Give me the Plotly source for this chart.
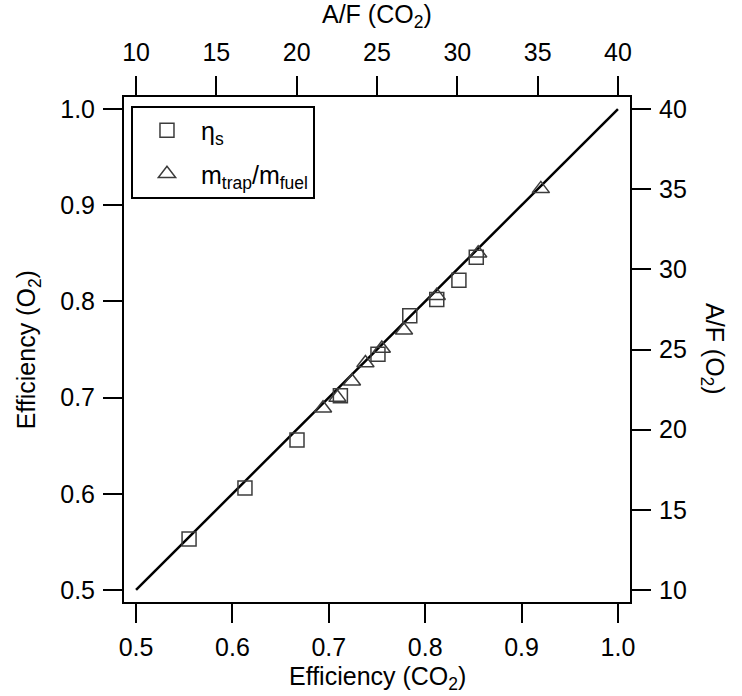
import plotly.graph_objects as go

# Combustion efficiency from CO2 balance (x) vs O2 balance (y)
eta_s_co2 = [0.555, 0.613, 0.667, 0.712, 0.751, 0.784, 0.812, 0.835, 0.853]
eta_s_o2 = [0.553, 0.606, 0.656, 0.702, 0.745, 0.785, 0.802, 0.822, 0.846]
trap_co2 = [0.694, 0.709, 0.724, 0.738, 0.755, 0.778, 0.812, 0.855, 0.920]
trap_o2 = [0.689, 0.700, 0.717, 0.736, 0.751, 0.770, 0.806, 0.850, 0.917]

# 1:1 reference line
unity = [0.5, 1.0]

eff_ticks = [0.5, 0.6, 0.7, 0.8, 0.9, 1.0]
eff_ticktext = ["0.5", "0.6", "0.7", "0.8", "0.9", "1.0"]
af_ticks = [10, 15, 20, 25, 30, 35, 40]

eff_range = [0.4875, 1.0125]
# A/F axes are linear in efficiency: A/F = 60*eff - 20
af_range = [60 * eff_range[0] - 20, 60 * eff_range[1] - 20]

FONT = "Liberation Sans, Arial, sans-serif"
FS = 25
INK = "#000000"
MARK = "#3c3c3c"

fig = go.Figure()

fig.add_trace(go.Scatter(
    x=unity, y=unity, mode="lines",
    line=dict(color=INK, width=2.5),
    showlegend=False, hoverinfo="skip",
))

fig.add_trace(go.Scatter(
    x=eta_s_co2, y=eta_s_o2, mode="markers", name="η<sub>s</sub>",
    legendgroup="a",
    marker=dict(symbol="square-open", size=14, color=MARK, line=dict(width=1.5, color=MARK)),
))

fig.add_trace(go.Scatter(
    x=trap_co2, y=trap_o2, mode="markers", name="m<sub>trap</sub>/m<sub>fuel</sub>",
    legendgroup="b",
    marker=dict(symbol="triangle-up-open", size=15, color=MARK, line=dict(width=1.5, color=MARK)),
))

# Invisible trace that anchors the A/F axes
fig.add_trace(go.Scatter(
    x=[af_ticks[0], af_ticks[-1]], y=[af_ticks[0], af_ticks[-1]],
    xaxis="x2", yaxis="y2", mode="lines",
    line=dict(color="rgba(0,0,0,0)"), showlegend=False, hoverinfo="skip",
))

axis_common = dict(
    showgrid=False, zeroline=False,
    showline=True, linecolor=INK, linewidth=2,
    ticks="outside", ticklen=19, tickwidth=2, tickcolor=INK,
    tickfont=dict(family=FONT, size=FS, color=INK),
)

fig.update_layout(
    width=742, height=696,
    margin=dict(l=124, r=112, t=97, b=94),
    paper_bgcolor="white", plot_bgcolor="white",
    font=dict(family=FONT, size=FS, color=INK),
    xaxis=dict(range=eff_range, tickvals=eff_ticks, ticktext=eff_ticktext,
               ticklabelstandoff=3, **axis_common),
    yaxis=dict(range=eff_range, tickvals=eff_ticks, ticktext=eff_ticktext,
               ticklabelstandoff=3, **axis_common),
    xaxis2=dict(range=af_range, tickvals=af_ticks, overlaying="x", side="top",
                anchor="y", ticklabelstandoff=5, **axis_common),
    yaxis2=dict(range=af_range, tickvals=af_ticks, overlaying="y", side="right",
                anchor="x", ticklabelstandoff=3, **axis_common),
    legend=dict(
        x=0.0138, y=0.983, xanchor="left", yanchor="top",
        bordercolor=INK, borderwidth=2, bgcolor="white",
        font=dict(family=FONT, size=FS, color=INK),
        itemwidth=58, tracegroupgap=8,
    ),
    showlegend=True,
)

titles = [
    dict(text="Efficiency (CO<sub>2</sub>)", x=0.5, y=-0.151, textangle=0),
    dict(text="Efficiency (O<sub>2</sub>)", x=-0.19, y=0.5, textangle=-90),
    dict(text="A/F (CO<sub>2</sub>)", x=0.5, y=1.16, textangle=0),
    dict(text="A/F (O<sub>2</sub>)", x=1.165, y=0.5, textangle=90),
]
for t in titles:
    fig.add_annotation(
        text=t["text"], x=t["x"], y=t["y"], xref="paper", yref="paper",
        xanchor="center", yanchor="middle", showarrow=False,
        textangle=t["textangle"], font=dict(family=FONT, size=FS, color=INK),
    )

fig.write_html("out.html")
